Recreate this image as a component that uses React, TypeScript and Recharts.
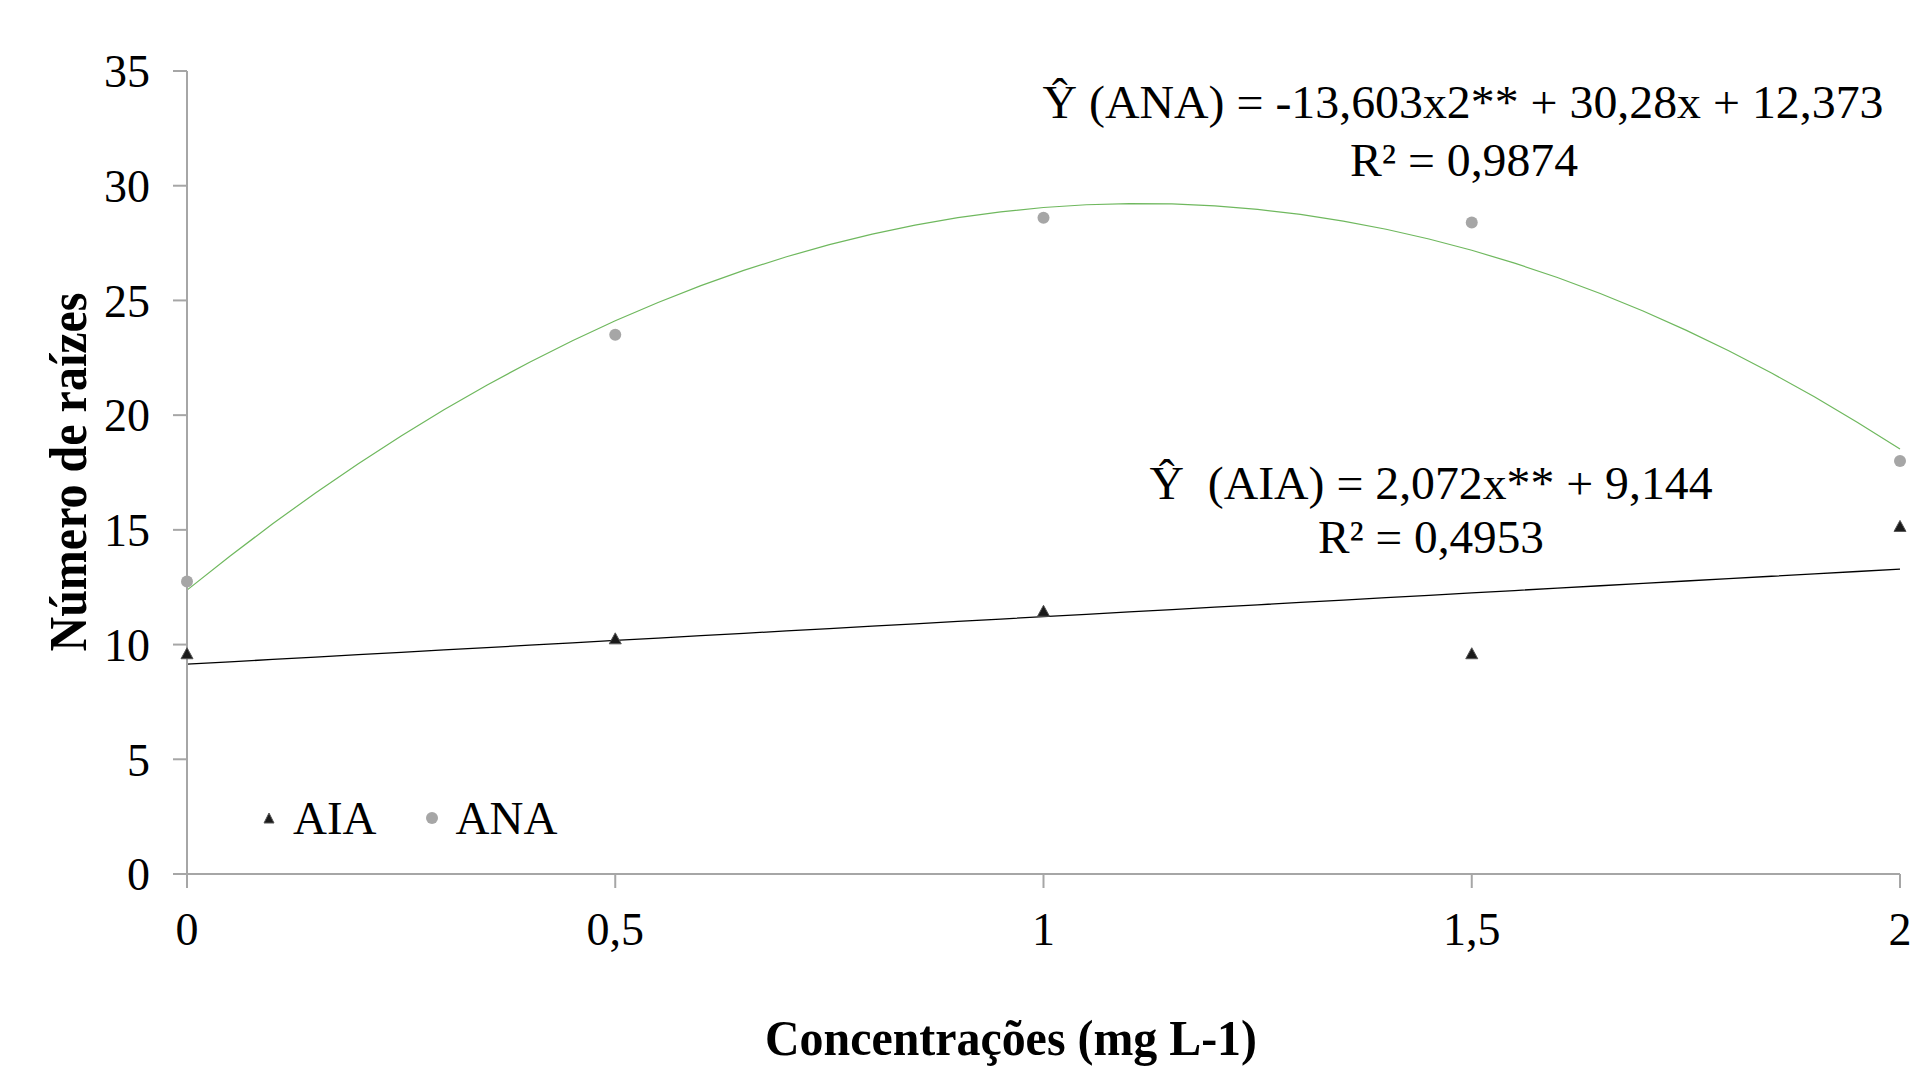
import { ComposedChart, Line, Scatter, XAxis, YAxis } from 'recharts'

// concentrations (mg L-1)
const concentrations = [0, 0.5, 1, 1.5, 2]
// mean number of roots
const aiaValues = [9.6, 10.25, 11.45, 9.6, 15.15]
const anaValues = [12.75, 23.5, 28.6, 28.4, 18.0]

// trendline coefficients as printed on the chart: [c0, c1, c2]
const aiaCoef = [9.144, 2.072, 0]
const anaCoef = [12.373, 30.28, -13.603]

const xTicks = [0, 0.5, 1, 1.5, 2]
const yTicks = [0, 5, 10, 15, 20, 25, 30, 35]

const seriesNames = ['AIA', 'ANA']

const serif = 'Liberation Serif, Times New Roman, serif'
const axisGray = '#a6a6a6'

const aiaPoints = concentrations.map((x, i) => ({ x, y: aiaValues[i] }))
const anaPoints = concentrations.map((x, i) => ({ x, y: anaValues[i] }))

// sample the fitted polynomial along the x range
const trendX = Array.from({ length: 41 }, (_, i) => i * 0.05)
const evalPoly = (c: number[], x: number) => c[0] + c[1] * x + c[2] * x * x
const aiaTrend = trendX.map((x) => ({ x, y: evalPoly(aiaCoef, x) }))
const anaTrend = trendX.map((x) => ({ x, y: evalPoly(anaCoef, x) }))

const Triangle = (props: any) => {
    const { cx, cy } = props
    if (cx == null || cy == null) return null
    return (
        <polygon
            points={`${cx},${cy - 6} ${cx - 6},${cy + 5} ${cx + 6},${cy + 5}`}
            fill="#1a1a1a"
            stroke="#555"
            strokeWidth={1}
        />
    )
}

const Dot = (props: any) => {
    const { cx, cy } = props
    if (cx == null || cy == null) return null
    return <circle cx={cx} cy={cy} r={6} fill="#a6a6a6" />
}

function ChartLegend() {
    return (
        <div
            style={{
                position: 'absolute',
                left: 262,
                top: 792,
                display: 'flex',
                alignItems: 'center',
                height: 52,
                fontFamily: serif,
                fontSize: 47,
                color: '#000',
            }}
        >
            <svg width={14} height={14} style={{ marginRight: 17 }}>
                <polygon points="7,2 2,12 12,12" fill="#1a1a1a" stroke="#555" strokeWidth={1} />
            </svg>
            <span>{seriesNames[0]}</span>
            <svg width={14} height={14} style={{ marginLeft: 48, marginRight: 17 }}>
                <circle cx={7} cy={7} r={6} fill="#a6a6a6" />
            </svg>
            <span>{seriesNames[1]}</span>
        </div>
    )
}

export default function App() {
    const W = 1928
    const H = 1066
    return (
        <div style={{ position: 'absolute', left: 0, top: 0, width: W, height: H, background: '#fff' }}>
            <ComposedChart width={W} height={H} margin={{ top: 71, right: 28, left: 87, bottom: 112 }}>
                <XAxis
                    dataKey="x"
                    type="number"
                    domain={[0, 2]}
                    ticks={xTicks}
                    tickFormatter={(v: number) => String(v).replace('.', ',')}
                    height={80}
                    axisLine={{ stroke: axisGray, strokeWidth: 2 }}
                    tickLine={{ stroke: axisGray, strokeWidth: 2 }}
                    tickSize={14}
                    tickMargin={24}
                    tick={{ fontSize: 46, fill: '#000', fontFamily: serif }}
                    allowDuplicatedCategory={false}
                />
                <YAxis
                    dataKey="y"
                    type="number"
                    domain={[0, 35]}
                    ticks={yTicks}
                    width={100}
                    axisLine={{ stroke: axisGray, strokeWidth: 2 }}
                    tickLine={{ stroke: axisGray, strokeWidth: 2 }}
                    tickSize={14}
                    tickMargin={23}
                    tick={{ fontSize: 46, fill: '#000', fontFamily: serif }}
                />
                <Line
                    data={anaTrend}
                    dataKey="y"
                    type="linear"
                    stroke="#6fb85e"
                    strokeWidth={1.2}
                    dot={false}
                    activeDot={false}
                    legendType="none"
                    isAnimationActive={false}
                />
                <Line
                    data={aiaTrend}
                    dataKey="y"
                    type="linear"
                    stroke="#000"
                    strokeWidth={1.3}
                    dot={false}
                    activeDot={false}
                    legendType="none"
                    isAnimationActive={false}
                />
                <Scatter name="AIA" data={aiaPoints} dataKey="y" shape={<Triangle />} isAnimationActive={false} />
                <Scatter name="ANA" data={anaPoints} dataKey="y" shape={<Dot />} isAnimationActive={false} />
            </ComposedChart>
            <ChartLegend />
            <svg
                width={W}
                height={H}
                style={{ position: 'absolute', left: 0, top: 0, pointerEvents: 'none' }}
                fontFamily={serif}
            >
                <text x={1463} y={102} fontSize={46} textAnchor="middle" dominantBaseline="central" textLength={841} lengthAdjust="spacingAndGlyphs">
                    Ŷ (ANA) = -13,603x2** + 30,28x + 12,373
                </text>
                <text x={1464} y={160} fontSize={46} textAnchor="middle" dominantBaseline="central" textLength={228} lengthAdjust="spacingAndGlyphs">
                    R² = 0,9874
                </text>
                <text x={1431} y={483} fontSize={46} textAnchor="middle" dominantBaseline="central" textLength={563} lengthAdjust="spacingAndGlyphs">
                    {'Ŷ\u00A0 (AIA) = 2,072x** + 9,144'}
                </text>
                <text x={1431} y={537} fontSize={46} textAnchor="middle" dominantBaseline="central" textLength={226} lengthAdjust="spacingAndGlyphs">
                    R² = 0,4953
                </text>
                <text x={1011} y={1038} fontSize={50} fontWeight="bold" textAnchor="middle" dominantBaseline="central" textLength={492} lengthAdjust="spacingAndGlyphs">
                    Concentrações (mg L-1)
                </text>
                <text
                    x={68}
                    y={472}
                    fontSize={52}
                    fontWeight="bold"
                    textAnchor="middle"
                    dominantBaseline="central"
                    transform="rotate(-90 68 472)"
                    textLength={359}
                    lengthAdjust="spacingAndGlyphs"
                >
                    Número de raízes
                </text>
            </svg>
        </div>
    )
}
